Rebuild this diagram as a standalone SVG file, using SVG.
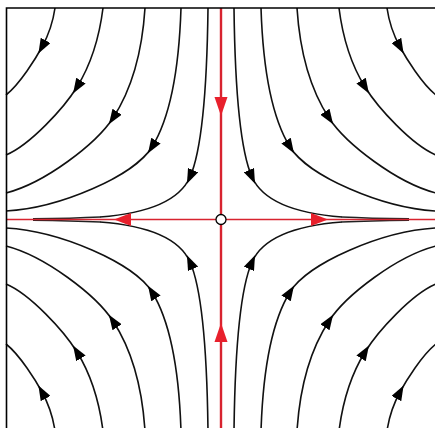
<svg xmlns="http://www.w3.org/2000/svg" width="435" height="428" viewBox="0 0 435 428">
<style>
.s{fill:none;stroke:#111;stroke-width:1.6;marker-mid:url(#ah)}
.h{fill:none;stroke:#222;stroke-width:1.5}
.ax{stroke:#d8232f;fill:none}
.ra{fill:#e8202c}
</style>
<defs>
<marker id="ah" viewBox="0 0 15 11" refX="7.5" refY="5.5" markerWidth="15" markerHeight="11" markerUnits="userSpaceOnUse" orient="auto">
<path d="M0,0 L15,5.5 L0,11 Z" fill="#000"/>
</marker>
<g id="quad">
<path class="s" d="M55,8 C53,22 48,36 42,47 S20,84 6,95"/>
<path class="s" d="M103,8 C99,40 90,66 77,87 S30,145 6,155"/>
<path class="s" d="M145,8 C142,55 130,92 113,118 S45,183 6,193"/>
<path class="s" d="M181,8 C179,70 170,118 152,147 S60,208 6,211"/>
<path class="s" d="M208,8 C207,90 202,150 190,177 S140,214 100,217"/>
<path class="h" d="M100.5,217 C80,218 60,218.5 33,218.8"/>
</g>
</defs>
<rect width="435" height="428" fill="#fff"/>
<g id="connectors">
<use href="#quad"/>
<use href="#quad" transform="translate(442,0) scale(-1,1)"/>
<use href="#quad" transform="translate(0,439) scale(1,-1)"/>
<use href="#quad" transform="translate(442,439) scale(-1,-1)"/>
</g>
<g id="axes">
<line class="ax" x1="221" y1="8" x2="221" y2="428" stroke-width="2.4"/>
<line class="ax" x1="6" y1="219.5" x2="435" y2="219.5" stroke-width="1.6"/>
<polygon class="ra" points="214.5,97 227.5,97 221,116"/>
<polygon class="ra" points="214.5,342 227.5,342 221,323"/>
<polygon class="ra" points="131,213 131,226 114,219.5"/>
<polygon class="ra" points="311,213 311,226 328,219.5"/>
</g>
<g id="frame">
<path d="M6.5,428 V8 H435" fill="none" stroke="#000" stroke-width="1.6"/>
</g>
<g id="saddle">
<circle cx="221" cy="219.5" r="5" fill="#fff" stroke="#000" stroke-width="1.3"/>
</g>
</svg>
